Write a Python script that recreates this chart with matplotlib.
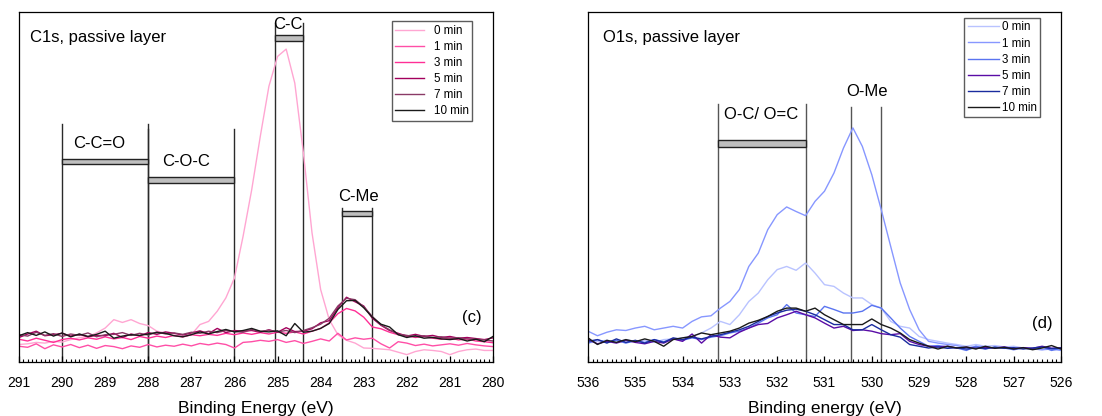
import numpy as np
import matplotlib
matplotlib.use("Agg")
import matplotlib.pyplot as plt
from matplotlib.patches import Rectangle

plt.rcParams['font.family'] = ['Liberation Sans', 'DejaVu Sans']

# ---------------- C1s spectra (binding energy 291 -> 280 eV, 0.2 eV step) ----------------
c1s_energy = np.round(np.arange(291.0, 279.99, -0.2), 1)
c1s_labels = ["0 min", "1 min", "3 min", "5 min", "7 min", "10 min"]
c1s_colors = ["#ffa6d2", "#ff4fa7", "#ff2f96", "#a3005c", "#8a3a66", "#1a1a1a"]

c1s_0 = [5.0, 5.2, 5.6, 5.4, 5.9, 5.7, 6.4, 6.9, 7.3, 8.3, 9.7, 12.1, 11.3, 12.1, 11.0, 10.4,
         8.8, 8.3, 7.5, 7.1, 7.8, 10.7, 11.6, 14.5, 18.3, 24.0, 35.9, 49.2, 64.5, 78.8, 87.3,
         89.4, 79.7, 59.7, 36.9, 20.7, 12.1, 7.8, 6.2, 5.4, 4.0, 3.9, 3.7, 3.5, 2.8, 2.1,
         3.0, 3.5, 3.3, 3.0, 2.1, 3.0, 3.5, 3.7, 3.3, 3.3]
c1s_1 = [4.5, 4.2, 5.2, 3.8, 4.9, 4.3, 5.0, 4.1, 4.8, 3.9, 4.7, 4.4, 3.8, 4.6, 4.2, 5.0,
         4.3, 4.8, 4.5, 5.1, 4.6, 5.3, 4.9, 5.4, 5.0, 4.0, 5.6, 5.8, 6.2, 5.9, 6.4,
         5.6, 6.1, 5.3, 5.9, 6.6, 6.0, 8.2, 6.3, 6.9, 6.5, 6.8, 5.2, 4.0, 5.8, 5.4,
         4.7, 5.1, 4.6, 4.9, 5.2, 4.8, 5.3, 4.9, 4.6, 4.4]
c1s_3 = [6.5, 6.0, 6.8, 6.2, 5.6, 6.4, 6.8, 6.3, 6.9, 6.5, 7.2, 6.6, 7.0, 6.4, 7.3, 6.8,
         7.4, 7.0, 7.6, 7.2, 7.8, 7.5, 7.9, 7.6, 8.2, 7.8, 8.3, 7.9, 8.4, 8.0, 8.5,
         8.2, 8.6, 8.0, 8.8, 9.6, 11.2, 13.8, 15.3, 14.6, 12.8, 10.0, 9.5, 8.5, 7.8, 7.5,
         7.0, 7.3, 6.8, 6.5, 6.9, 6.3, 6.6, 6.0, 5.8, 5.5]
c1s_5 = [7.0, 8.0, 8.8, 7.5, 7.8, 8.2, 7.4, 7.9, 7.2, 7.6, 7.5, 8.2, 7.0, 8.0, 7.5, 8.4,
         7.9, 8.6, 8.2, 7.7, 8.3, 8.9, 8.1, 9.6, 8.4, 9.0, 8.8, 9.0, 8.5, 9.2, 8.5,
         9.8, 8.7, 8.8, 9.5, 11.2, 11.8, 15.5, 18.5, 17.2, 16.0, 12.5, 10.5, 9.0, 8.2, 7.4,
         7.9, 7.3, 7.6, 7.0, 7.3, 6.8, 7.0, 6.7, 6.4, 6.9]
c1s_7 = [7.8, 7.4, 8.5, 7.6, 8.1, 7.3, 8.0, 7.6, 8.3, 7.2, 7.8, 7.9, 8.4, 7.6, 8.2, 7.7,
         8.6, 8.0, 8.3, 7.9, 8.5, 8.2, 8.8, 8.4, 9.0, 8.7, 8.5, 9.3, 8.7, 9.1, 8.6,
         9.0, 8.4, 9.0, 9.8, 10.8, 12.5, 16.0, 18.2, 17.8, 15.8, 13.0, 10.6, 9.2, 7.9, 7.6,
         7.2, 7.5, 7.0, 7.2, 6.8, 6.9, 6.6, 6.5, 6.3, 6.0]
c1s_10 = [7.5, 8.4, 7.6, 8.6, 7.4, 8.3, 7.2, 8.0, 7.3, 7.9, 8.8, 6.8, 7.4, 7.8, 7.6, 8.0,
          8.4, 8.2, 7.5, 7.2, 7.8, 8.6, 8.0, 8.7, 9.3, 8.6, 9.0, 9.6, 8.8, 8.6, 8.9,
          7.5, 11.0, 8.5, 8.8, 9.6, 11.0, 15.0, 17.5, 17.6, 15.5, 12.8, 10.8, 10.0, 7.8, 7.0,
          7.5, 6.8, 7.0, 6.6, 6.4, 6.7, 6.0, 6.5, 5.8, 7.3]
c1s_series = [c1s_0, c1s_1, c1s_3, c1s_5, c1s_7, c1s_10]

# ---------------- O1s spectra (binding energy 536 -> 526 eV, 0.2 eV step) ----------------
o1s_energy = np.round(np.arange(536.0, 525.99, -0.2), 1)
o1s_labels = ["0 min", "1 min", "3 min", "5 min", "7 min", "10 min"]
o1s_colors = ["#b9c3ff", "#8797ff", "#5a74f0", "#5a0ca6", "#1a2c9e", "#1a1a1a"]

o1s_0 = [5.4, 5.9, 6.2, 5.6, 6.4, 5.9, 6.2, 5.6, 6.4, 6.6, 6.9, 7.3, 8.3, 9.7, 11.6, 10.7,
         13.5, 17.3, 19.7, 23.5, 26.4, 27.3, 26.2, 28.3, 25.4, 22.1, 21.6, 19.7, 18.3, 18.3,
         16.4, 15.4, 11.6, 10.2, 9.7, 7.3, 6.4, 5.9, 5.4, 5.0, 4.5, 5.0, 4.5, 4.7, 4.3,
         4.5, 4.0, 3.7, 3.5, 4.0, 3.5]
o1s_1 = [8.8, 7.5, 8.5, 9.2, 9.0, 9.7, 10.2, 9.2, 9.7, 10.2, 9.7, 11.6, 12.9, 13.2, 15.4,
         17.3, 20.7, 27.3, 31.1, 37.8, 42.1, 44.3, 43.0, 41.8, 45.9, 48.8, 54.0, 61.1, 66.9,
         61.6, 53.5, 43.5, 33.0, 22.6, 15.0, 9.2, 5.9, 5.4, 5.0, 4.7, 4.0, 4.5, 4.3, 4.0,
         4.2, 3.9, 4.1, 3.8, 3.5, 3.7, 3.3]
o1s_3 = [5.4, 6.4, 5.6, 6.2, 5.4, 6.1, 5.6, 6.4, 5.8, 6.6, 6.2, 6.9, 6.4, 7.1, 7.5, 8.3,
         8.8, 9.7, 11.1, 12.6, 13.5, 16.4, 14.0, 13.5, 13.0, 15.9, 15.0, 14.0, 14.0, 14.5,
         16.2, 15.4, 12.6, 9.7, 7.3, 5.9, 4.5, 4.7, 4.3, 4.0, 3.3, 4.5, 3.7, 4.3, 4.0,
         3.5, 4.0, 3.7, 4.3, 3.3, 3.9]
o1s_5 = [6.4, 5.2, 5.9, 5.4, 6.2, 5.6, 5.2, 5.9, 5.4, 6.6, 5.9, 8.0, 5.4, 7.8, 7.1, 6.9,
         8.5, 9.7, 10.7, 11.0, 12.6, 13.5, 14.5, 13.5, 12.6, 11.1, 9.7, 10.2, 9.0, 9.2,
         8.8, 8.1, 7.8, 8.1, 5.9, 5.0, 4.5, 4.3, 4.5, 4.0, 4.2, 3.9, 4.2, 4.0, 4.3,
         3.8, 4.1, 3.9, 4.5, 3.9, 4.1]
o1s_7 = [5.9, 6.4, 5.4, 6.6, 5.6, 6.2, 5.4, 6.4, 5.6, 6.9, 6.4, 7.1, 6.6, 7.3, 7.8, 8.5,
         9.2, 10.2, 11.6, 13.0, 14.0, 14.8, 15.1, 14.5, 13.5, 12.1, 10.7, 10.7, 9.2, 9.2,
         10.7, 9.2, 7.8, 7.1, 5.0, 4.5, 4.0, 4.3, 3.9, 4.1, 3.7, 4.0, 3.8, 4.2, 3.9,
         4.1, 3.7, 4.0, 4.3, 3.8, 4.0]
o1s_10 = [6.9, 5.0, 6.2, 5.6, 6.4, 5.8, 6.6, 5.9, 4.5, 6.4, 6.9, 7.3, 8.3, 7.8, 8.3, 8.8,
          9.7, 11.1, 11.9, 13.0, 14.5, 15.4, 15.4, 14.5, 15.4, 13.5, 12.1, 10.7, 10.7, 10.7,
          12.3, 10.7, 9.7, 8.3, 6.4, 5.4, 4.5, 3.7, 4.5, 4.0, 4.3, 3.7, 4.5, 3.9, 4.2,
          3.7, 4.1, 3.5, 4.0, 4.7, 3.7]
o1s_series = [o1s_0, o1s_1, o1s_3, o1s_5, o1s_7, o1s_10]

# ---------------- peak assignment markers ----------------
# (label, high-BE edge, low-BE edge, bar level, line top, label x, label y)
c1s_regions = [
    ("C-C=O", 290.0, 288.0, 57.3, 68.0, 289.14, 62.4),
    ("C-O-C", 288.0, 286.0, 52.0, 66.6, 287.13, 57.2),
    ("C-C", 285.05, 284.4, 92.6, 97.0, 284.75, 96.4),
    ("C-Me", 283.5, 282.8, 42.4, 44.0, 283.12, 47.2),
]
o1s_regions = [
    ("O-C/ O=C", 533.25, 531.4, 62.5, 73.8, 532.33, 70.8),
]
o1s_extra_lines = [(530.45, 73.0), (529.8, 73.0)]
o1s_extra_labels = [("O-Me", 530.1, 77.3)]


def style_axes(ax, xmin, xmax, xlabel):
    ax.set_xlim(xmin, xmax)
    ax.set_ylim(0, 100)
    ax.set_yticks([])
    ax.set_xticks(np.arange(min(xmin, xmax), max(xmin, xmax) + 0.01, 1.0))
    ax.xaxis.set_minor_locator(matplotlib.ticker.MultipleLocator(0.1))
    ax.xaxis.set_major_formatter(matplotlib.ticker.FormatStrFormatter('%d'))
    ax.tick_params(axis='x', which='major', direction='in', length=4, width=0.9,
                   labelsize=10, pad=10)
    ax.tick_params(axis='x', which='minor', direction='in', length=2.5, width=0.8)
    for s in ax.spines.values():
        s.set_linewidth(0.9)
    ax.set_xlabel(xlabel, fontsize=12.5, labelpad=8)


def draw_region(ax, label, hi, lo, level, top, lx, ly, bar_h, line_col):
    ax.plot([hi, hi], [0, top], color=line_col, lw=1.0, zorder=1)
    ax.plot([lo, lo], [0, top], color=line_col, lw=1.0, zorder=1)
    ax.add_patch(Rectangle((lo, level - bar_h / 2), hi - lo, bar_h,
                           facecolor='#bfbfbf', edgecolor='#222222', lw=1.0, zorder=3))
    ax.text(lx, ly, label, fontsize=12, ha='center', va='center', zorder=4)


fig = plt.figure(figsize=(11.02, 4.16), dpi=100)
ax1 = fig.add_axes([19 / 1102, 54 / 416, 474 / 1102, 350 / 416])
ax2 = fig.add_axes([588 / 1102, 54 / 416, 473 / 1102, 350 / 416])

# C1s panel
for y, lab, col in zip(c1s_series, c1s_labels, c1s_colors):
    ax1.plot(c1s_energy, y, color=col, lw=1.0, label=lab, zorder=2)
for lab, hi, lo, level, top, lx, ly in c1s_regions:
    draw_region(ax1, lab, hi, lo, level, top, lx, ly, 1.5, '#2a2a2a')
style_axes(ax1, 291, 280, "Binding Energy (eV)")
ax1.text(290.75, 92.6, "C1s, passive layer", fontsize=12, ha='left', va='center')
ax1.text(280.5, 12.6, "(c)", fontsize=12, ha='center', va='center')
leg1 = ax1.legend(loc='upper right', bbox_to_anchor=(0.956, 0.974), fontsize=8.4,
                  frameon=True, fancybox=False, edgecolor='#333333', handlelength=2.5,
                  handletextpad=0.8, labelspacing=0.35, borderpad=0.3, borderaxespad=0)
leg1.get_frame().set_linewidth(1.0)

# O1s panel
for y, lab, col in zip(o1s_series, o1s_labels, o1s_colors):
    ax2.plot(o1s_energy, y, color=col, lw=1.0, label=lab, zorder=2)
for lab, hi, lo, level, top, lx, ly in o1s_regions:
    draw_region(ax2, lab, hi, lo, level, top, lx, ly, 2.1, '#555555')
for xv, top in o1s_extra_lines:
    ax2.plot([xv, xv], [0, top], color='#555555', lw=1.0, zorder=1)
for lab, lx, ly in o1s_extra_labels:
    ax2.text(lx, ly, lab, fontsize=12, ha='center', va='center')
style_axes(ax2, 536, 526, "Binding energy (eV)")
ax2.text(535.68, 92.6, "O1s, passive layer", fontsize=12, ha='left', va='center')
ax2.text(526.39, 11.1, "(d)", fontsize=12, ha='center', va='center')
leg2 = ax2.legend(loc='upper right', bbox_to_anchor=(0.956, 0.983), fontsize=8.4,
                  frameon=True, fancybox=False, edgecolor='#333333', handlelength=2.7,
                  handletextpad=0.2, labelspacing=0.35, borderpad=0.3, borderaxespad=0)
leg2.get_frame().set_linewidth(1.0)

fig.savefig("out.png", dpi=100)
